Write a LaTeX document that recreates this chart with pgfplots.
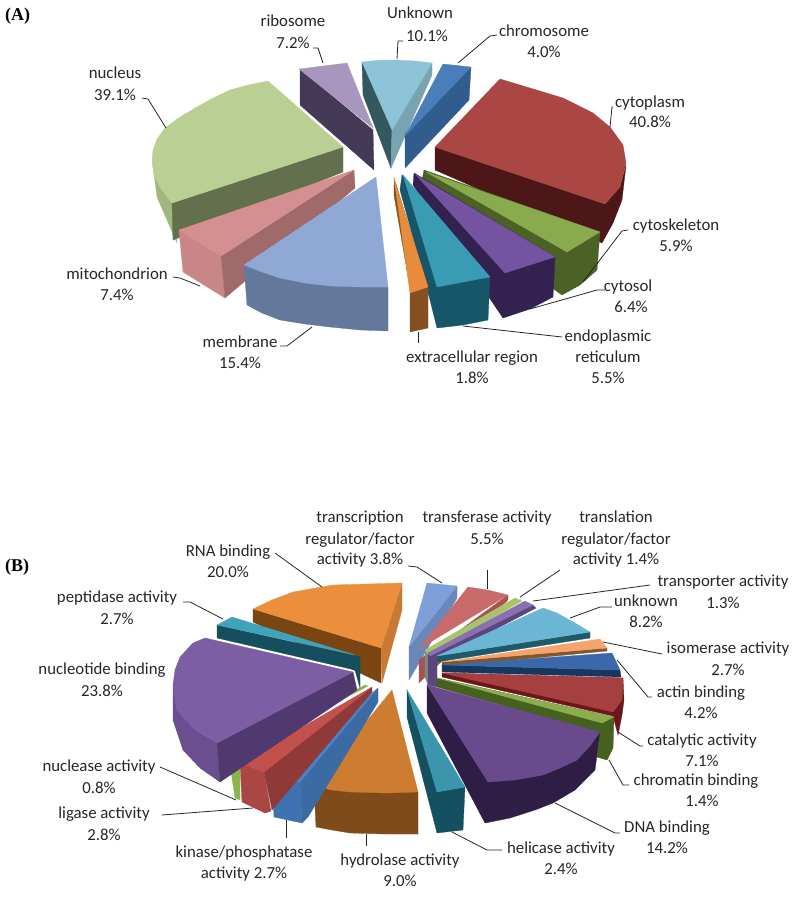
\documentclass[border=0pt]{standalone}
\usepackage{fontspec}
\setmainfont{Carlito}
\newfontfamily\serifb{Liberation Serif}
\usepackage{pgfplots}
\pgfplotsset{compat=1.18}
\newcommand\poly[2]{\addplot[fill=#1,draw=#1,line width=0.3pt,forget plot] coordinates {#2} --cycle;}
\newcommand\lead[1]{\addplot[color=black!85,line width=0.8pt,forget plot] coordinates {#1};}
\newcommand\lab[2]{\node[font=\fontsize{16.8}{16.8}\selectfont,text=black!85,inner sep=0pt,anchor=center,yshift=-2.5pt] at (axis cs:#1) {\strut #2};}
\definecolor{riboT}{HTML}{A996BF}\definecolor{riboS}{HTML}{443A58}
\definecolor{unkT}{HTML}{8DC4D8}\definecolor{unkL}{HTML}{34585F}\definecolor{unkR}{HTML}{7AA3B2}
\definecolor{chrT}{HTML}{4A7EBB}\definecolor{chrS}{HTML}{305C8E}
\definecolor{cytT}{HTML}{AA4644}\definecolor{cytS}{HTML}{4C1716}
\definecolor{cskT}{HTML}{8AAA4E}\definecolor{cskS}{HTML}{4B6126}
\definecolor{csoT}{HTML}{7454A0}\definecolor{csoS}{HTML}{33214F}
\definecolor{erT}{HTML}{3A9BB5}\definecolor{erS}{HTML}{175568}
\definecolor{extT}{HTML}{E88B3A}\definecolor{extS}{HTML}{84501F}
\definecolor{memT}{HTML}{8FA8D6}\definecolor{memS}{HTML}{64789C}
\definecolor{mitT}{HTML}{D49090}\definecolor{mitF}{HTML}{C88786}\definecolor{mitS}{HTML}{A06A6A}
\definecolor{nucT}{HTML}{BACF94}\definecolor{nucF}{HTML}{A2B67F}\definecolor{nucS}{HTML}{646F4E}
\definecolor{rnaT}{HTML}{EB8F3C}\definecolor{rnaS}{HTML}{7A4511}\definecolor{rnaR}{HTML}{C67A33}
\definecolor{pepT}{HTML}{41A3B9}\definecolor{pepS}{HTML}{154E5C}
\definecolor{ntT}{HTML}{7D5DA3}\definecolor{ntS}{HTML}{50396F}\definecolor{ntF}{HTML}{6B4E8F}
\definecolor{ncaT}{HTML}{8AB548}\definecolor{ligT}{HTML}{C2504D}\definecolor{ligS}{HTML}{8F3A38}\definecolor{ligF}{HTML}{AA4744}
\definecolor{kinT}{HTML}{4A82C6}\definecolor{kinS}{HTML}{3C6BA4}\definecolor{kinF}{HTML}{3F72B0}
\definecolor{hydT}{HTML}{CC7D32}\definecolor{hydS}{HTML}{7F4B1B}
\definecolor{helT}{HTML}{3B96AD}\definecolor{helS}{HTML}{14505F}
\definecolor{dnaT}{HTML}{694A8C}\definecolor{dnaS}{HTML}{2E1E45}
\definecolor{chbT}{HTML}{8BAD4E}\definecolor{chbS}{HTML}{46601D}
\definecolor{catT}{HTML}{A63F40}\definecolor{catS}{HTML}{6B1719}
\definecolor{actT}{HTML}{3B68A9}\definecolor{actS}{HTML}{17375E}
\definecolor{isoT}{HTML}{F4A46C}\definecolor{isoS}{HTML}{85562A}
\definecolor{unbT}{HTML}{6BB6D4}\definecolor{unbS}{HTML}{1F5A6A}
\definecolor{traT}{HTML}{8A70B0}\definecolor{traS}{HTML}{5C4680}
\definecolor{tlnT}{HTML}{A8C46A}\definecolor{tlnS}{HTML}{7C8A78}
\definecolor{tfT}{HTML}{C96B6B}\definecolor{tfS}{HTML}{A85252}
\definecolor{tcT}{HTML}{7F9FD8}\definecolor{tcS}{HTML}{6A87BA}
\begin{document}
\begin{tikzpicture}
\path[use as bounding box] (0,0) rectangle (800pt,897pt);
\begin{axis}[at={(0,0)},anchor=south west,scale only axis,width=800pt,height=897pt,xmin=0,xmax=800,ymin=0,ymax=897,y dir=reverse,axis lines=none,clip=false]
% ---------- Pie A
\poly{riboS}{(300,69)(300,105)(374,170)(373,130)}
\poly{riboT}{(299,69)(347,63)(373,128)}
\poly{nucF}{(153,165)(157,197)(177,243)(173,203)}
\poly{nucS}{(172,203)(173,240)(343,172)(343,147)}
\poly{nucT}{(343,147)(268,81)(248,85)(230,90)(213,98)(197,107)(180,117)(165,128)(157,139)(153,150)(152,162)(154,175)(161,189)(172,203)}
\poly{unkL}{(362,62)(392,128)(391,168)(363,95)}
\poly{unkR}{(392,128)(432,63)(432,75)(391,168)}
\poly{unkT}{(362,62)(380,60)(397,60)(415,61)(432,63)(392,130)}
\poly{chrS}{(471,67)(469,100)(405,168)(405,134)}
\poly{chrT}{(443,64)(471,67)(405,136)}
\poly{cytS}{(435,147)(435,170)(602,243)(613,223)(622,200)(626,165)(620,187)(605,204)}
\poly{cytT}{(435,147)(500,79)(530,88)(563,98)(593,113)(610,127)(623,145)(626,163)(620,187)(605,204)}
\poly{cskS}{(424,170)(422,180)(555,290)(562,295)(580,285)(597,270)(600,232)}
\poly{cskT}{(426,172)(600,232)(567,252)}
\poly{csoS}{(414,173)(413,185)(503,318)(530,309)(553,297)(555,257)}
\poly{csoT}{(416,175)(555,257)(505,273)}
\poly{erS}{(402,175)(400,190)(430,300)(437,328)(463,325)(488,320)(490,277)}
\poly{erT}{(403,175)(490,277)(437,287)}
\poly{extS}{(394,178)(394,195)(410,288)(410,332)(428,328)(428,287)}
\poly{extT}{(394,178)(428,287)(410,293)}
\poly{mitF}{(179,230)(221,256)(225,298)(183,272)}
\poly{mitS}{(354,170)(355,188)(225,298)(221,256)}
\poly{mitT}{(354,170)(179,230)(221,256)}
\poly{memS}{(244,265)(247,305)(262,313)(280,320)(305,324)(330,327)(360,330)(388,331)(388,287)}
\poly{memT}{(376,177)(244,265)(262,272)(280,278)(305,283)(330,286)(360,287)(388,287)}
% ---------- Pie B
\poly{tcS}{(457,586)(457,598)(409,680)(409,647)}
\poly{tcT}{(427,583)(457,586)(409,647)}
\poly{tfS}{(508,595)(419,660)(419,683)(425,677)(508,600)}
\poly{tfT}{(419,649)(468,587)(488,590)(508,595)}
\poly{tlnS}{(425,650)(428,653)(428,685)(425,677)}
\poly{tlnT}{(425,650)(515,598)(522,601)(428,655)}
\poly{traS}{(428,653)(533,605)(536,608)(437,660)(437,687)(428,685)}
\poly{traT}{(428,653)(525,601)(533,605)(430,656)}
\poly{unbS}{(437,656)(437,662)(590,638)(590,632)}
\poly{unbT}{(437,656)(543,608)(557,613)(575,623)(590,632)}
\poly{isoS}{(442,662)(442,667)(607,651)(607,648)}
\poly{isoT}{(442,662)(600,639)(607,648)}
\poly{actS}{(442,665)(442,672)(621,677)(620,670)}
\poly{actT}{(442,665)(612,653)(620,670)}
\poly{catS}{(442,673)(442,677)(613,716)(618,735)(622,715)(624,700)(623,678)}
\poly{catT}{(442,673)(623,678)(622,700)(613,712)}
\poly{chbS}{(437,678)(437,687)(600,733)(597,757)(607,760)(613,748)(614,717)}
\poly{chbT}{(437,678)(614,717)(602,723)}
\poly{dnaS}{(427,685)(427,713)(485,823)(510,818)(535,810)(553,803)(575,790)(595,770)(600,732)(577,760)(543,775)(488,782)}
\poly{dnaT}{(427,685)(600,732)(590,746)(577,760)(560,768)(543,775)(515,780)(488,782)}
\poly{helS}{(407,690)(407,717)(437,833)(463,830)(465,787)(437,792)}
\poly{helT}{(407,690)(465,787)(437,792)}
\poly{hydS}{(314,786)(316,827)(332,830)(350,833)(385,834)(418,834)(418,792)}
\poly{hydT}{(392,690)(314,786)(332,790)(350,792)(387,793)(418,792)}
\poly{kinF}{(272,777)(300,782)(302,823)(274,817)}
\poly{kinS}{(300,782)(378,688)(378,702)(308,817)(302,823)}
\poly{kinT}{(272,777)(300,782)(378,688)}
\poly{ligF}{(240,763)(264,772)(271,811)(265,813)(242,802)}
\poly{ligS}{(264,772)(372,687)(372,692)(272,810)}
\poly{ligT}{(240,763)(264,772)(372,687)}
\poly{ncaT}{(229,758)(240,754)(368,686)(365,685)}
\poly{ncaT}{(229,758)(240,754)(240,800)(235,798)}
\poly{rnaS}{(253,609)(253,622)(381,683)(381,648)}
\poly{rnaR}{(381,648)(402,583)(402,610)(382,683)}
\poly{rnaT}{(402,583)(333,585)(293,592)(272,600)(253,609)(381,648)}
\poly{pepS}{(217,625)(217,638)(355,670)(360,688)(360,657)}
\poly{pepT}{(232,617)(217,625)(355,655)}
\poly{ntF}{(173,685)(173,720)(183,750)(200,768)(220,782)(217,743)(195,730)(177,710)}
\poly{ntS}{(353,672)(217,743)(220,782)(357,690)}
\poly{ntT}{(205,638)(353,672)(217,743)(195,730)(177,710)(173,685)(175,670)(180,657)(193,643)}
% ---------- leader lines
\lead{(313,48)(318,48)(323,63)}
\lead{(403,41)(398,41)(397,59)}
\lead{(497,35)(490,36)(458,63)}
\lead{(613,107)(612,107)(610,127)}
\lead{(142,98)(148,99)(166,128)}
\lead{(173,277)(180,278)(200,286)}
\lead{(280,346)(287,346)(312,327)}
\lead{(418,332)(418,343)}
\lead{(463,326)(562,337)}
\lead{(605,290)(597,290)(530,309)}
\lead{(628,230)(622,231)(583,282)}
\lead{(408,566)(417,567)(442,583)}
\lead{(487,570)(487,589)}
\lead{(560,570)(520,597)}
\lead{(650,585)(533,601)}
\lead{(612,607)(600,607)(570,618)}
\lead{(662,654)(603,642)}
\lead{(617,660)(648,697)(652,697)}
\lead{(618,732)(640,746)(643,746)}
\lead{(609,760)(623,785)(629,785)}
\lead{(555,803)(615,833)(620,833)}
\lead{(452,832)(487,850)(502,850)}
\lead{(366,834)(366,846)}
\lead{(286,820)(286,838)}
\lead{(162,815)(253,808)}
\lead{(160,767)(236,800)}
\lead{(183,602)(190,602)(223,619)}
\lead{(275,553)(322,587)}
% ---------- labels
\node[font=\serifb\bfseries\fontsize{18}{18}\selectfont,anchor=west,inner sep=0pt] at (axis cs:5,16) {(A)};
\node[font=\serifb\bfseries\fontsize{18}{18}\selectfont,anchor=west,inner sep=0pt] at (axis cs:5,567) {(B)};
\lab{293,21}{ribosome}\lab{293,43}{7.2\%}
\lab{420,13}{Unknown}\lab{427,36}{10.1\%}
\lab{544,31}{chromosome}\lab{544,52}{4.0\%}
\lab{650,102}{cytoplasm}\lab{650,122}{40.8\%}
\lab{676,225}{cytoskeleton}\lab{676,246}{5.9\%}
\lab{628,286}{cytosol}\lab{631,307}{6.4\%}
\lab{608,336}{endoplasmic}\lab{608,357}{reticulum}\lab{608,378}{5.5\%}
\lab{472,357}{extracellular region}\lab{472,378}{1.8\%}
\lab{240,342}{membrane}\lab{240,363}{15.4\%}
\lab{117,274}{mitochondrion}\lab{117,295}{7.4\%}
\lab{115,73}{nucleus}\lab{115,95}{39.1\%}
\lab{360,517}{transcription}\lab{360,539}{regulator/factor}\lab{360,559}{activity 3.8\%}
\lab{487,517}{transferase activity}\lab{487,539}{5.5\%}
\lab{616,517}{translation}\lab{616,539}{regulator/factor}\lab{616,559}{activity 1.4\%}
\lab{723,581}{transporter activity}\lab{723,603}{1.3\%}
\lab{646,601}{unknown}\lab{646,622}{8.2\%}
\lab{728,648}{isomerase activity}\lab{728,670}{2.7\%}
\lab{701,692}{actin binding}\lab{701,713}{4.2\%}
\lab{702,740}{catalytic activity}\lab{702,761}{7.1\%}
\lab{696,780}{chromatin binding}\lab{702,801}{1.4\%}
\lab{667,827}{DNA binding}\lab{667,848}{14.2\%}
\lab{561,848}{helicase activity}\lab{561,869}{2.4\%}
\lab{400,860}{hydrolase activity}\lab{400,881}{9.0\%}
\lab{244,852}{kinase/phosphatase}\lab{244,873}{activity 2.7\%}
\lab{104,813}{ligase activity}\lab{104,835}{2.8\%}
\lab{99,766}{nuclease activity}\lab{99,788}{0.8\%}
\lab{102,669}{nucleotide binding}\lab{102,691}{23.8\%}
\lab{117,597}{peptidase activity}\lab{117,619}{2.7\%}
\lab{228,551}{RNA binding}\lab{228,572}{20.0\%}
\end{axis}
\end{tikzpicture}
\end{document}
